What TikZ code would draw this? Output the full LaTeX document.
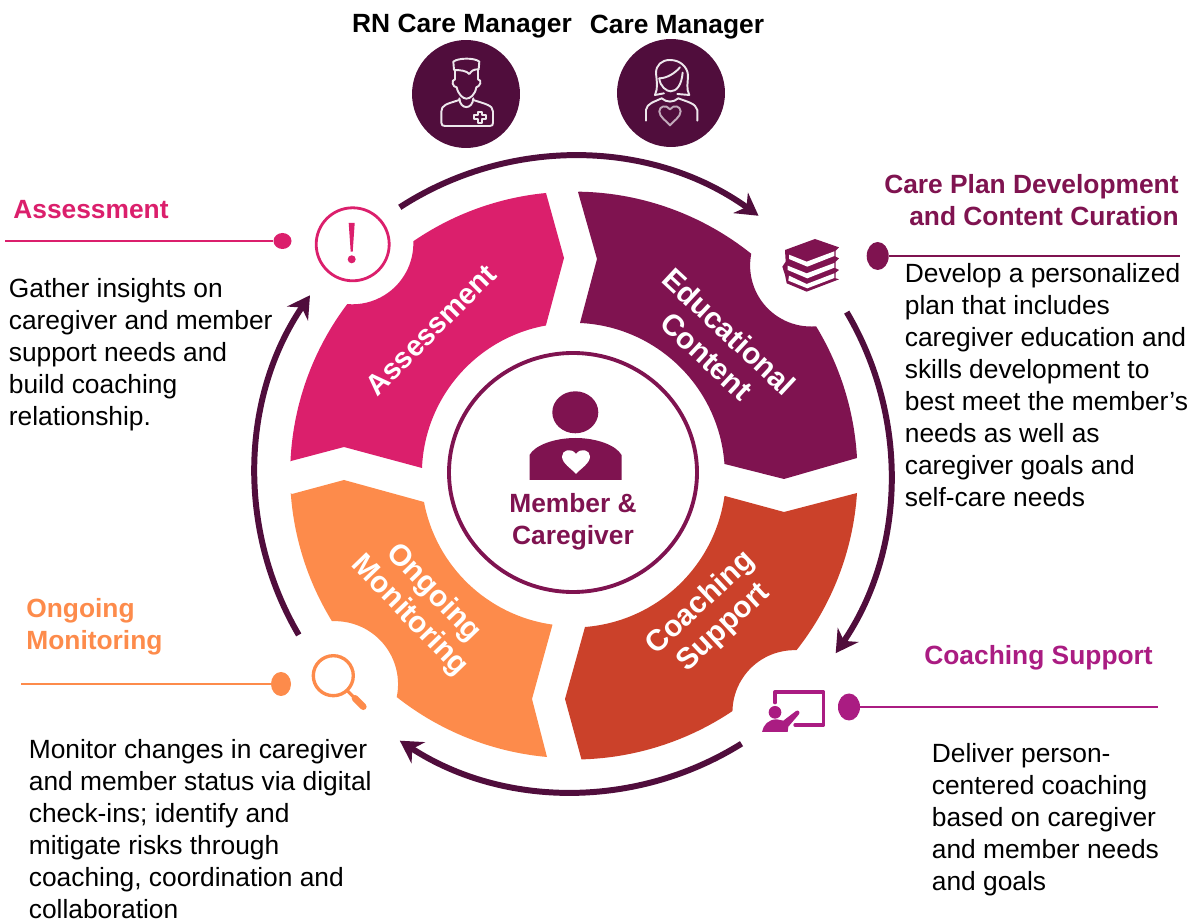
\documentclass[tikz,border=0pt]{standalone}
\usepackage{fontspec}
\setmainfont{Liberation Sans}
\usetikzlibrary{arrows.meta,shapes.geometric}
\definecolor{plumdark}{HTML}{500D3C}
\definecolor{plum}{HTML}{7F1350}
\definecolor{pinkred}{HTML}{DB1F6C}
\definecolor{rust}{HTML}{CB412A}
\definecolor{orangey}{HTML}{FD8B4B}
\definecolor{magent}{HTML}{AA1C82}
\tikzset{
  bodytext/.style={font=\fontsize{15}{18.2}\selectfont,align=left,inner sep=0pt,anchor=north west,text=black},
  titletext/.style={font=\fontsize{15}{18.2}\selectfont\bfseries,inner sep=0pt},
  segtext/.style={font=\fontsize{17}{19}\selectfont\bfseries,text=white,align=center,inner sep=0pt},
  dotmark/.style={ellipse,inner sep=0pt,minimum width=#1},
  leader/.style={line width=1.7pt},
  cyclearrow/.style={plumdark,line width=3.4pt,-{Stealth[length=4.4mm,width=5mm]}},
  iconline/.style={white!90!plumdark,line width=1.1pt,line join=round,line cap=round},
}
\newcommand{\heartpath}{(0,-1) .. controls (-0.3,-0.6) and (-1,-0.2) .. (-1,0.35) .. controls (-1,0.85) and (-0.35,1.05) .. (0,0.55) .. controls (0.35,1.05) and (1,0.85) .. (1,0.35) .. controls (1,-0.2) and (0.3,-0.6) .. (0,-1) -- cycle}
\begin{document}
\begin{tikzpicture}[x=0.02cm,y=0.02cm]
  \useasboundingbox (0,0) rectangle (1190,920);
  \coordinate (hub) at (573,446);
  % four segments
  \fill[pinkred] (291,459) -- (344,473) -- (422,452) arc (177.7:100.3:151) -- (564,662) -- (546,727)
    arc (95.5:124.5:282) arc (1.9:-94.8:61) arc (142.9:177.4:282) -- cycle;
  \fill[plum] (578,728) -- (597,661) -- (580,597) arc (87.3:4.1:152) -- (784,441) -- (857,462)
    arc (3.2:31.3:284) arc (-85.3:-191.1:61) arc (51.3:89:283) -- cycle;
  \fill[rust] (725,424) -- (784,408) -- (857,427) arc (-3.8:-38.3:284) arc (88.1:179:62)
    arc (-56.1:-88.4:285) -- (565,221) -- (585,293) arc (-85.5:-8.2:153) -- cycle;
  \fill[orangey] (292,426) -- (344,440) -- (424,418) arc (190.6:262.1:152) -- (532,221) -- (547,163)
    arc (264.8:231.7:284) arc (-11.8:92.8:63) arc (211.6:184.1:283) -- cycle;
  % arrows round the ring
  \foreach \a/\b in {123/54.3, 30.6/-34.3, -58/-123, 210.4/145.8} {
      \draw[cyclearrow] (hub) ++(\a:318) arc (\a:\b:318);
  }
  % segment labels
  \node[segtext,rotate=45,font=\fontsize{16.5}{19}\selectfont\bfseries] (assesslabel) at (431,590) {Assessment};
  \node[segtext,rotate=-43] (edulabel) at (718,576) {Educational\\Content};
  \node[segtext,rotate=43] (coachlabel) at (712.5,304.5) {Coaching\\Support};
  \node[segtext,rotate=-46] (monitorlabel) at (421.5,315.5) {Ongoing\\Monitoring};
  % centre
  \draw[plum,line width=2.2pt] (573,447.5) ellipse (124 and 119.5);
  \fill[plum] (575.3,507.7) ellipse (23 and 21);
  \fill[plum] (529.5,440) -- (529.5,465) .. controls (535,475) and (555,482) .. (575.5,482)
    .. controls (596,482) and (616,475) .. (621.5,465) -- (621.5,440) -- cycle;
  \fill[white,shift={(576,459)},xscale=14,yscale=13] \heartpath;
  \node[titletext,text=plum,align=center] (centerlabel) at (573,398) {Member \&\\Caregiver};
  % care managers
  \node[circle,fill=plumdark,minimum size=2.16cm,inner sep=0pt] (rnicon) at (466,826) {};
  \node[circle,fill=plumdark,minimum size=2.16cm,inner sep=0pt] (cmicon) at (671,827) {};
  \node[titletext] (rnlabel) at (462,894) {RN Care Manager};
  \node[titletext] (cmlabel) at (677,893) {Care Manager};
  \begin{scope}[shift={(400,890)},xscale=0.3333,yscale=-0.3333]
    \draw[iconline] (162,120) -- (160,95) .. controls (175,83) and (225,83) .. (238,95) -- (236,118)
      .. controls (220,118) and (215,122) .. (208,132) .. controls (200,122) and (180,120) .. (162,120);
    \draw[iconline] (165,122) -- (165,148) .. controls (152,150) and (158,172) .. (170,172)
      .. controls (175,195) and (190,206) .. (199,206) .. controls (210,206) and (225,195) .. (229,172)
      .. controls (240,170) and (248,150) .. (234,148) -- (234,118);
    \draw[iconline] (178,205) .. controls (180,240) and (218,240) .. (220,205);
    \draw[iconline] (178,210) .. controls (140,222) and (124,225) .. (124,245) -- (124,278)
      .. controls (124,286) and (128,288) .. (135,288) -- (270,288) .. controls (277,288) and (279,285) .. (279,278)
      -- (279,245) .. controls (279,225) and (255,222) .. (220,210);
    \draw[iconline,fill=plumdark] (233,245) -- (247,245) -- (247,255) -- (258,255) -- (258,268) -- (247,268)
      -- (247,278) -- (233,278) -- (233,268) -- (222,268) -- (222,255) -- (233,255) -- cycle;
    % woman
    \draw[iconline] (765,195) .. controls (775,175) and (770,150) .. (768,130) .. controls (768,105) and (785,90) .. (810,90)
      .. controls (840,90) and (862,110) .. (864,135) .. controls (864,160) and (858,175) .. (868,195) -- (832,192);
    \draw[iconline] (765,195) -- (792,190);
    \draw[iconline] (778,145) .. controls (800,145) and (825,130) .. (840,112);
    \draw[iconline] (778,145) .. controls (780,170) and (800,184) .. (812,184) .. controls (830,184) and (845,165) .. (848,128);
    \draw[iconline] (738,272) -- (738,240) .. controls (740,220) and (765,215) .. (785,205)
      .. controls (800,218) and (820,218) .. (835,205) .. controls (860,215) and (888,220) .. (892,240) -- (892,272);
    \draw[iconline,draw=white!65!plumdark,shift={(810,255)},xscale=32,yscale=-31] \heartpath;
  \end{scope}
  % assessment
  \node[titletext,text=pinkred,anchor=west] (assesstitle) at (13,710) {Assessment};
  \node[bodytext] (assessbody) at (8.5,642) {Gather insights on\\caregiver and member\\support needs and\\build coaching\\relationship.};
  \node[dotmark=18*0.02cm,minimum height=16*0.02cm,fill=pinkred] (assessdot) at (282.5,679) {};
  \coordinate (assessend) at (5,679);
  \draw[leader,pinkred] (assessdot) -- (assessend);
  \draw[pinkred,line width=1.6pt] (352.7,675.7) circle (36.5);
  \fill[pinkred] (348.7,697) -- (354.7,697) -- (352.7,668.3) -- (350.7,668.3) -- cycle;
  \fill[pinkred] (351.7,660.7) circle (4);
  % care plan
  \node[titletext,text=plum,align=right,anchor=north east] (plantitle) at (1179,746) {Care Plan Development\\and Content Curation};
  \node[bodytext] (planbody) at (904.5,657) {Develop a personalized\\plan that includes\\caregiver education and\\skills development to\\best meet the member’s\\needs as well as\\caregiver goals and\\self-care needs};
  \node[dotmark=22*0.02cm,minimum height=28*0.02cm,fill=plum] (plandot) at (877.7,664) {};
  \coordinate (planend) at (1180,664);
  \draw[leader,plum] (plandot) -- (planend);
  \begin{scope}[shift={(720,700)},xscale=0.3333,yscale=-0.3333]
    \fill[plum] (195,90) -- (285,57) -- (357,82) -- (347,92) -- (347,110) -- (357,115) -- (347,125) -- (347,145)
      -- (357,150) -- (347,158) -- (347,175) -- (357,178) -- (260,215) -- (200,190) -- (195,165) -- (187,140)
      -- (197,125) -- cycle;
    \fill[white] (207,104) -- (260,125) -- (343,94) -- (343,108) -- (262,140) -- (207,117) -- cycle;
    \fill[white] (203,137) -- (260,160) -- (343,129) -- (343,143) -- (262,175) -- (203,150) -- cycle;
    \fill[white] (207,167) -- (260,192) -- (343,160) -- (343,174) -- (262,205) -- (205,182) -- cycle;
  \end{scope}
  % coaching
  \node[titletext,text=magent,anchor=west] (coachtitle) at (924,262) {Coaching Support};
  \node[bodytext] (coachbody) at (931.5,177) {Deliver person-\\centered coaching\\based on caregiver\\and member needs\\and goals};
  \node[dotmark=22*0.02cm,minimum height=27*0.02cm,fill=magent] (coachdot) at (849,213) {};
  \coordinate (coachend) at (1158,213);
  \draw[leader,magent] (coachdot) -- (coachend);
  \begin{scope}[shift={(720,290)},xscale=0.3333,yscale=-0.3333]
    \draw[magent,line width=1.9pt,line join=round,line cap=round] (165,218) -- (165,186) -- (311,186) -- (311,285) -- (225,285);
    \fill[magent] (165,247) circle (19);
    \fill[magent] (126,306) .. controls (130,285) and (145,268) .. (170,268) -- (190,272) -- (228,243)
      .. controls (236,238) and (242,248) .. (236,254) -- (205,290) -- (203,306) -- cycle;
  \end{scope}
  % monitoring
  \node[titletext,text=orangey,align=left,anchor=north west] (monitortitle) at (26,322) {Ongoing\\Monitoring};
  \node[bodytext] (monitorbody) at (28.5,181) {Monitor changes in caregiver\\and member status via digital\\check-ins; identify and\\mitigate risks through\\coaching, coordination and\\collaboration};
  \node[dotmark=20*0.02cm,minimum height=24*0.02cm,fill=orangey] (monitordot) at (281,236) {};
  \coordinate (monitorend) at (21,236);
  \draw[leader,orangey] (monitordot) -- (monitorend);
  \draw[orangey,line width=1.9pt] (333.3,244.3) circle (20);
  \draw[orangey,line width=1.8pt] (348,228.7) -- (355,221.7);
  \draw[orangey,line width=3.8pt,line cap=round] (355,221.7) -- (363.3,213.3);
\end{tikzpicture}
\end{document}
